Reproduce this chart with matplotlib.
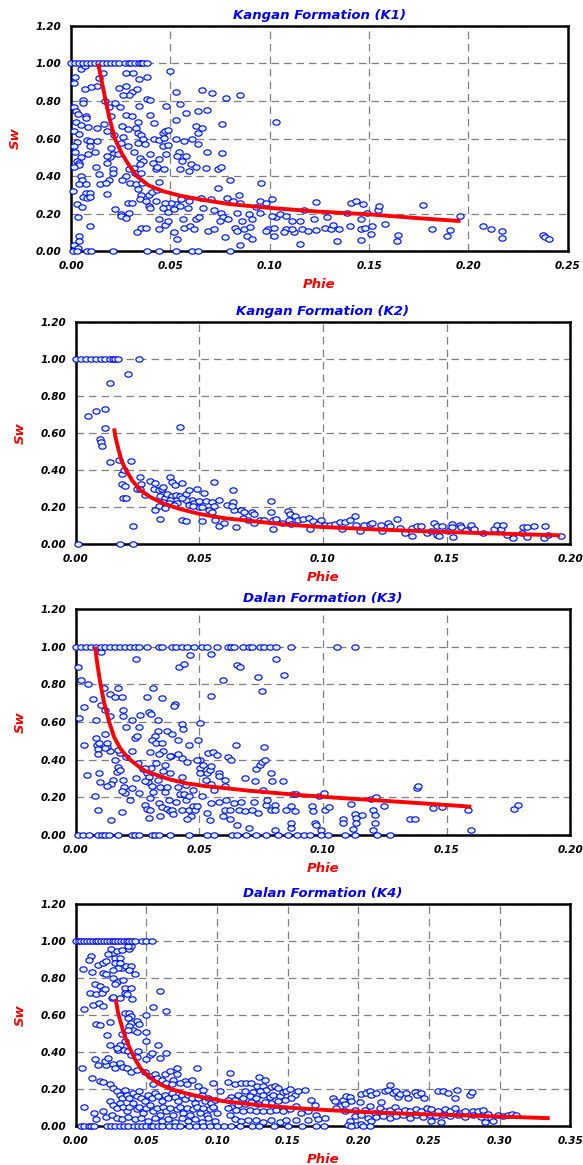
import numpy as np
import matplotlib
matplotlib.use("Agg")
import matplotlib.pyplot as plt
from matplotlib.path import Path

# ── Data (Phie, Sw) ──────────────────────────────────────────────────────────
k1_sw1 = [0.000, 0.002, 0.004, 0.006, 0.008, 0.010, 0.012, 0.014, 0.016, 0.018,
          0.020, 0.022, 0.024, 0.027, 0.029, 0.030, 0.032, 0.034, 0.035, 0.036, 0.038]
k1_sw0 = [0.001, 0.003, 0.008, 0.010, 0.021, 0.038, 0.044, 0.053, 0.061, 0.064, 0.080]
k1_pts = [
    (0.002, 0.93), (0.0015, 0.895), (0.005, 0.97), (0.007, 0.985), (0.016, 0.95),
    (0.014, 0.92), (0.013, 0.88), (0.010, 0.875), (0.007, 0.865), (0.017, 0.80),
    (0.006, 0.805), (0.006, 0.79), (0.0015, 0.77), (0.0025, 0.745), (0.0035, 0.73),
    (0.0075, 0.72), (0.0075, 0.71), (0.0025, 0.69), (0.005, 0.67), (0.0085, 0.66),
    (0.013, 0.655), (0.0015, 0.64), (0.004, 0.625), (0.008, 0.59), (0.0095, 0.585),
    (0.013, 0.585), (0.003, 0.58), (0.0015, 0.56), (0.0095, 0.56), (0.002, 0.53),
    (0.0085, 0.52), (0.012, 0.53), (0.005, 0.50), (0.003, 0.48), (0.004, 0.47),
    (0.004, 0.46), (0.0015, 0.45), (0.0125, 0.45), (0.005, 0.40), (0.0055, 0.38),
    (0.004, 0.36), (0.0075, 0.36), (0.0145, 0.355), (0.001, 0.32), (0.0075, 0.31),
    (0.0095, 0.31), (0.006, 0.29), (0.008, 0.285), (0.0095, 0.29), (0.018, 0.305),
    (0.003, 0.25), (0.0055, 0.235), (0.0035, 0.18), (0.0095, 0.135), (0.004, 0.08),
    (0.004, 0.055), (0.0015, 0.03), (0.0035, 0.015),
    (0.019, 0.77), (0.020, 0.72), (0.0165, 0.68), (0.018, 0.64), (0.0215, 0.62),
    (0.020, 0.55), (0.021, 0.52), (0.0195, 0.50), (0.018, 0.47), (0.021, 0.435),
    (0.021, 0.415), (0.0235, 0.515), (0.025, 0.575), (0.0285, 0.56), (0.022, 0.79),
    (0.0245, 0.77), (0.0275, 0.725), (0.0255, 0.665), (0.0285, 0.65), (0.026, 0.61),
    (0.024, 0.87), (0.0275, 0.88), (0.0305, 0.85), (0.033, 0.865), (0.029, 0.83),
    (0.026, 0.83), (0.0275, 0.95), (0.031, 0.95), (0.034, 0.915), (0.038, 0.93),
    (0.038, 0.81), (0.0395, 0.805), (0.034, 0.775), (0.0305, 0.72), (0.0335, 0.69),
    (0.0325, 0.655), (0.0335, 0.63), (0.035, 0.62), (0.036, 0.595), (0.0335, 0.575),
    (0.037, 0.57), (0.0315, 0.53), (0.0345, 0.495), (0.036, 0.48), (0.0345, 0.465),
    (0.0315, 0.445), (0.029, 0.435), (0.032, 0.415), (0.035, 0.415), (0.0275, 0.40),
    (0.0255, 0.38), (0.0295, 0.365), (0.0325, 0.355), (0.0355, 0.365), (0.0335, 0.33),
    (0.035, 0.30), (0.0345, 0.28), (0.0375, 0.265), (0.039, 0.30), (0.0405, 0.315),
    (0.0285, 0.255), (0.0305, 0.255), (0.029, 0.205), (0.022, 0.225), (0.025, 0.195),
    (0.025, 0.185), (0.0275, 0.175), (0.019, 0.38), (0.0175, 0.365), (0.035, 0.125),
    (0.033, 0.10), (0.039, 0.24), (0.0425, 0.265), (0.044, 0.37), (0.0395, 0.725),
    (0.0415, 0.685), (0.0395, 0.52), (0.041, 0.47), (0.0425, 0.435), (0.0415, 0.595),
    (0.044, 0.59), (0.046, 0.63), (0.047, 0.64), (0.049, 0.645), (0.0465, 0.605),
    (0.046, 0.56), (0.048, 0.52), (0.049, 0.565), (0.044, 0.49), (0.043, 0.45),
    (0.0465, 0.435), (0.050, 0.96), (0.053, 0.85), (0.055, 0.785), (0.048, 0.775),
    (0.053, 0.70), (0.058, 0.735), (0.063, 0.665), (0.066, 0.655), (0.064, 0.63),
    (0.066, 0.86), (0.071, 0.845), (0.064, 0.745), (0.0685, 0.75), (0.076, 0.675),
    (0.078, 0.815), (0.085, 0.83), (0.103, 0.69), (0.053, 0.595), (0.057, 0.585),
    (0.061, 0.595), (0.064, 0.57), (0.0545, 0.53), (0.0535, 0.505), (0.056, 0.48),
    (0.058, 0.505), (0.0605, 0.465), (0.063, 0.45), (0.0595, 0.425), (0.055, 0.435),
    (0.0685, 0.53), (0.068, 0.445), (0.076, 0.525), (0.074, 0.435), (0.0755, 0.45),
    (0.080, 0.38), (0.074, 0.335), (0.0955, 0.365), (0.0845, 0.30), (0.0785, 0.285),
    (0.0815, 0.265), (0.085, 0.255), (0.0705, 0.275), (0.0655, 0.285), (0.0595, 0.265),
    (0.0555, 0.275), (0.053, 0.25), (0.0505, 0.255), (0.047, 0.255), (0.046, 0.23),
    (0.049, 0.21), (0.052, 0.225), (0.055, 0.24), (0.059, 0.23), (0.0665, 0.23),
    (0.072, 0.22), (0.0755, 0.205), (0.0765, 0.18), (0.075, 0.16), (0.079, 0.17),
    (0.0835, 0.205), (0.0895, 0.195), (0.093, 0.235), (0.095, 0.265), (0.098, 0.255),
    (0.101, 0.275), (0.095, 0.205), (0.091, 0.17), (0.086, 0.16), (0.0825, 0.125),
    (0.0835, 0.105), (0.087, 0.115), (0.090, 0.13), (0.0885, 0.08), (0.091, 0.065),
    (0.099, 0.115), (0.098, 0.105), (0.102, 0.08), (0.102, 0.125), (0.103, 0.18),
    (0.101, 0.185), (0.105, 0.20), (0.108, 0.185), (0.111, 0.16), (0.108, 0.115),
    (0.107, 0.10), (0.112, 0.10), (0.111, 0.115), (0.115, 0.04), (0.117, 0.22),
    (0.115, 0.16), (0.116, 0.12), (0.119, 0.105), (0.122, 0.17), (0.123, 0.26),
    (0.123, 0.11), (0.128, 0.125), (0.129, 0.18), (0.131, 0.115), (0.132, 0.14),
    (0.134, 0.055), (0.135, 0.115), (0.139, 0.205), (0.1405, 0.135), (0.141, 0.255),
    (0.1435, 0.265), (0.146, 0.17), (0.146, 0.115), (0.146, 0.06), (0.147, 0.25),
    (0.149, 0.205), (0.148, 0.125), (0.151, 0.09), (0.1515, 0.135), (0.1545, 0.22),
    (0.155, 0.24), (0.158, 0.145), (0.164, 0.055), (0.1645, 0.085), (0.177, 0.245),
    (0.1815, 0.12), (0.189, 0.08), (0.1905, 0.11), (0.1955, 0.185), (0.2075, 0.135),
    (0.2115, 0.115), (0.217, 0.105), (0.217, 0.07), (0.2375, 0.085), (0.2385, 0.075),
    (0.2405, 0.065), (0.044, 0.17), (0.044, 0.115), (0.047, 0.14), (0.049, 0.16),
    (0.052, 0.10), (0.0535, 0.065), (0.0565, 0.17), (0.057, 0.125), (0.060, 0.135),
    (0.062, 0.12), (0.063, 0.17), (0.0645, 0.18), (0.069, 0.105), (0.072, 0.12),
    (0.0775, 0.075), (0.085, 0.03), (0.043, 0.325), (0.0395, 0.23), (0.0375, 0.125),
    (0.018, 0.505), (0.014, 0.41),
]
k1_fit_phie = [0.0136, 0.0155, 0.0174, 0.0195, 0.022, 0.0255, 0.029, 0.033, 0.039,
               0.046, 0.055, 0.065, 0.080, 0.100, 0.125, 0.151, 0.175, 0.196]
k1_fit_sw = [1.00, 0.90, 0.80, 0.70, 0.60, 0.52, 0.46, 0.40, 0.35,
             0.32, 0.295, 0.275, 0.25, 0.23, 0.21, 0.195, 0.175, 0.16]

k2_sw1 = [0.000, 0.002, 0.004, 0.006, 0.008, 0.010, 0.012, 0.014, 0.015, 0.016, 0.017, 0.0255]
k2_sw0 = [0.001, 0.018, 0.023]
k2_pts = [
    (0.021, 0.92), (0.014, 0.87), (0.005, 0.69), (0.0083, 0.72), (0.0117, 0.73),
    (0.012, 0.625), (0.0098, 0.57), (0.010, 0.55), (0.0105, 0.53), (0.014, 0.445),
    (0.0173, 0.455), (0.0222, 0.45), (0.0185, 0.38), (0.0195, 0.40), (0.0185, 0.325),
    (0.020, 0.315), (0.0193, 0.25), (0.0203, 0.25), (0.0233, 0.095), (0.042, 0.63),
    (0.026, 0.36), (0.0263, 0.325), (0.0248, 0.30), (0.026, 0.295), (0.028, 0.265),
    (0.030, 0.34), (0.032, 0.33), (0.0316, 0.30), (0.0335, 0.29), (0.035, 0.30),
    (0.034, 0.26), (0.036, 0.25), (0.0383, 0.36), (0.039, 0.335), (0.040, 0.32),
    (0.043, 0.33), (0.0353, 0.31), (0.037, 0.27), (0.039, 0.26), (0.0406, 0.265),
    (0.042, 0.26), (0.0445, 0.27), (0.0458, 0.29), (0.0489, 0.295), (0.047, 0.24),
    (0.0444, 0.24), (0.043, 0.25), (0.041, 0.22), (0.038, 0.24), (0.0353, 0.225),
    (0.0335, 0.205), (0.032, 0.185), (0.036, 0.195), (0.034, 0.135), (0.043, 0.13),
    (0.0444, 0.125), (0.0456, 0.21), (0.048, 0.22), (0.050, 0.23), (0.050, 0.20),
    (0.052, 0.275), (0.0526, 0.23), (0.055, 0.225), (0.056, 0.205), (0.054, 0.185),
    (0.055, 0.175), (0.051, 0.125), (0.056, 0.335), (0.058, 0.24), (0.061, 0.21),
    (0.0636, 0.29), (0.0636, 0.225), (0.064, 0.185), (0.063, 0.205), (0.0565, 0.13),
    (0.058, 0.10), (0.060, 0.115), (0.065, 0.09), (0.067, 0.185), (0.068, 0.175),
    (0.0677, 0.14), (0.0696, 0.13), (0.0714, 0.175), (0.072, 0.16), (0.0719, 0.115),
    (0.0744, 0.13), (0.0762, 0.13), (0.079, 0.23), (0.079, 0.175), (0.0797, 0.13),
    (0.0797, 0.08), (0.081, 0.135), (0.0835, 0.115), (0.0857, 0.18), (0.0865, 0.16),
    (0.0862, 0.13), (0.087, 0.11), (0.0888, 0.15), (0.090, 0.13), (0.092, 0.135),
    (0.0943, 0.14), (0.0948, 0.08), (0.096, 0.125), (0.098, 0.11), (0.099, 0.13),
    (0.1008, 0.105), (0.103, 0.105), (0.105, 0.11), (0.107, 0.12), (0.1075, 0.08),
    (0.109, 0.12), (0.111, 0.13), (0.1128, 0.15), (0.1135, 0.105), (0.115, 0.07),
    (0.1165, 0.105), (0.119, 0.11), (0.120, 0.115), (0.1233, 0.105), (0.124, 0.07),
    (0.1263, 0.115), (0.127, 0.095), (0.130, 0.135), (0.131, 0.085), (0.1333, 0.06),
    (0.1362, 0.045), (0.136, 0.085), (0.138, 0.095), (0.1398, 0.095), (0.142, 0.06),
    (0.1436, 0.07), (0.1448, 0.115), (0.146, 0.10), (0.146, 0.05), (0.148, 0.10),
    (0.147, 0.045), (0.1504, 0.07), (0.152, 0.11), (0.1526, 0.04), (0.152, 0.09),
    (0.1556, 0.105), (0.156, 0.09), (0.158, 0.075), (0.160, 0.09), (0.160, 0.105),
    (0.161, 0.08), (0.1647, 0.06), (0.169, 0.08), (0.1703, 0.105), (0.172, 0.08),
    (0.173, 0.105), (0.1744, 0.05), (0.1767, 0.035), (0.1805, 0.06), (0.181, 0.09),
    (0.1827, 0.09), (0.1827, 0.04), (0.1854, 0.10), (0.1895, 0.035), (0.190, 0.10),
    (0.191, 0.05), (0.1962, 0.045), (0.0376, 0.22), (0.0398, 0.21), (0.0474, 0.205),
    (0.0511, 0.20),
]
k2_fit_phie = [0.0155, 0.016, 0.0173, 0.0185, 0.0203, 0.023, 0.0263, 0.030, 0.0353, 0.042,
               0.050, 0.060, 0.0744, 0.085, 0.100, 0.125, 0.150, 0.175, 0.196]
k2_fit_sw = [0.625, 0.58, 0.51, 0.45, 0.40, 0.34, 0.29, 0.255, 0.22, 0.19,
             0.163, 0.14, 0.12, 0.105, 0.092, 0.077, 0.065, 0.055, 0.047]

k3_sw1 = [0.000, 0.002, 0.004, 0.006, 0.008, 0.010, 0.012, 0.014, 0.016, 0.018,
          0.020, 0.022, 0.024, 0.0256, 0.029, 0.0338, 0.035, 0.039, 0.0406, 0.043,
          0.045, 0.0477, 0.051, 0.053, 0.057, 0.0614, 0.0627, 0.064, 0.0677, 0.070,
          0.0714, 0.0744, 0.076, 0.0786, 0.081, 0.087, 0.1056, 0.113]
k3_sw0 = [0.0008, 0.003, 0.0053, 0.009, 0.0105, 0.012, 0.0135, 0.017, 0.0226, 0.024,
          0.0256, 0.031, 0.032, 0.0338, 0.038, 0.0459, 0.053, 0.056, 0.063, 0.0654,
          0.069, 0.0729, 0.077, 0.082, 0.0857, 0.0895, 0.0925, 0.0947, 0.099, 0.102,
          0.109, 0.1128, 0.122, 0.127]
k3_pts = [
    (0.160, 0.025), (0.001, 0.89), (0.0023, 0.825), (0.0048, 0.80), (0.0244, 0.935),
    (0.010, 0.97), (0.0012, 0.62), (0.0068, 0.72), (0.0033, 0.68), (0.010, 0.69),
    (0.008, 0.61), (0.012, 0.665), (0.0138, 0.75), (0.0158, 0.73), (0.017, 0.78),
    (0.0188, 0.73), (0.019, 0.665), (0.019, 0.63), (0.0113, 0.78), (0.0138, 0.63),
    (0.0203, 0.575), (0.0226, 0.61), (0.0256, 0.575), (0.0238, 0.515), (0.0248, 0.525),
    (0.026, 0.635), (0.0287, 0.73), (0.0313, 0.78), (0.0298, 0.655), (0.0305, 0.64),
    (0.0331, 0.61), (0.035, 0.725), (0.0334, 0.55), (0.032, 0.525), (0.0308, 0.505),
    (0.0323, 0.49), (0.035, 0.49), (0.0371, 0.55), (0.039, 0.535), (0.0401, 0.695),
    (0.0398, 0.685), (0.0413, 0.505), (0.0428, 0.59), (0.0433, 0.565), (0.0418, 0.89),
    (0.0439, 0.91), (0.0463, 0.955), (0.0549, 0.96), (0.0546, 0.74), (0.0504, 0.595),
    (0.0493, 0.505), (0.0456, 0.475), (0.0594, 0.825), (0.0654, 0.905), (0.0666, 0.89),
    (0.0737, 0.84), (0.0752, 0.765), (0.0809, 0.935), (0.0842, 0.85), (0.0647, 0.48),
    (0.0762, 0.465), (0.0534, 0.435), (0.0556, 0.44), (0.0571, 0.425), (0.0504, 0.40),
    (0.0489, 0.40), (0.0451, 0.39), (0.0428, 0.41), (0.0413, 0.43), (0.0387, 0.42),
    (0.038, 0.42), (0.0353, 0.445), (0.0338, 0.43), (0.0301, 0.44), (0.0323, 0.38),
    (0.0305, 0.355), (0.0271, 0.35), (0.0251, 0.38), (0.0226, 0.445), (0.0203, 0.415),
    (0.018, 0.435), (0.017, 0.45), (0.014, 0.445), (0.0128, 0.465), (0.0117, 0.535),
    (0.0128, 0.49), (0.012, 0.46), (0.0086, 0.48), (0.009, 0.455), (0.0093, 0.49),
    (0.008, 0.515), (0.0035, 0.475), (0.009, 0.43), (0.0158, 0.40), (0.017, 0.36),
    (0.0165, 0.335), (0.018, 0.345), (0.019, 0.29), (0.015, 0.29), (0.0143, 0.27),
    (0.0128, 0.26), (0.0098, 0.28), (0.0095, 0.33), (0.0045, 0.32), (0.0195, 0.255),
    (0.0198, 0.225), (0.0188, 0.235), (0.0244, 0.30), (0.0256, 0.225), (0.0226, 0.25),
    (0.0221, 0.185), (0.0188, 0.12), (0.0143, 0.08), (0.0078, 0.205), (0.009, 0.135),
    (0.0281, 0.355), (0.0287, 0.33), (0.0296, 0.31), (0.0293, 0.28), (0.0308, 0.26),
    (0.0313, 0.23), (0.0278, 0.285), (0.0281, 0.16), (0.0287, 0.14), (0.0301, 0.195),
    (0.0301, 0.135), (0.0298, 0.09), (0.0331, 0.29), (0.0341, 0.255), (0.0353, 0.34),
    (0.036, 0.37), (0.038, 0.33), (0.0338, 0.17), (0.035, 0.15), (0.0342, 0.10),
    (0.0362, 0.23), (0.0371, 0.255), (0.0376, 0.185), (0.0368, 0.14), (0.0383, 0.125),
    (0.039, 0.135), (0.0395, 0.11), (0.0406, 0.175), (0.0428, 0.31), (0.0413, 0.255),
    (0.0421, 0.22), (0.0436, 0.22), (0.0444, 0.265), (0.0428, 0.135), (0.0444, 0.185),
    (0.0459, 0.205), (0.0456, 0.135), (0.0466, 0.10), (0.0451, 0.085), (0.0474, 0.24),
    (0.0474, 0.155), (0.0481, 0.135), (0.0492, 0.155), (0.0511, 0.205), (0.0504, 0.355),
    (0.0501, 0.33), (0.0516, 0.37), (0.0531, 0.33), (0.0541, 0.345), (0.0546, 0.365),
    (0.0526, 0.29), (0.0549, 0.27), (0.0561, 0.24), (0.0579, 0.33), (0.0579, 0.315),
    (0.0602, 0.29), (0.0602, 0.26), (0.0617, 0.415), (0.0627, 0.40), (0.0531, 0.115),
    (0.0541, 0.08), (0.0546, 0.17), (0.0579, 0.175), (0.0594, 0.10), (0.0609, 0.185),
    (0.0602, 0.135), (0.0624, 0.135), (0.0624, 0.085), (0.0639, 0.17), (0.0654, 0.055),
    (0.0662, 0.135), (0.0669, 0.175), (0.0684, 0.30), (0.0684, 0.125), (0.0702, 0.035),
    (0.0714, 0.135), (0.0719, 0.175), (0.0726, 0.285), (0.0729, 0.35), (0.0737, 0.115),
    (0.0744, 0.37), (0.0752, 0.39), (0.0767, 0.40), (0.0759, 0.24), (0.0771, 0.16),
    (0.0774, 0.185), (0.0789, 0.135), (0.0789, 0.33), (0.0794, 0.285), (0.0805, 0.16),
    (0.0805, 0.135), (0.0807, 0.025), (0.0839, 0.285), (0.0850, 0.135), (0.0872, 0.155),
    (0.0872, 0.065), (0.0872, 0.035), (0.088, 0.22), (0.0892, 0.22), (0.0887, 0.125),
    (0.0955, 0.155), (0.0959, 0.125), (0.0967, 0.065), (0.0973, 0.055), (0.0993, 0.025),
    (0.0985, 0.205), (0.1003, 0.225), (0.1008, 0.135), (0.1023, 0.15), (0.1083, 0.085),
    (0.1083, 0.065), (0.1113, 0.165), (0.112, 0.03), (0.1128, 0.11), (0.1135, 0.09),
    (0.1135, 0.065), (0.1158, 0.105), (0.1195, 0.19), (0.1203, 0.135), (0.121, 0.105),
    (0.121, 0.065), (0.1203, 0.025), (0.1214, 0.20), (0.1248, 0.155), (0.1353, 0.085),
    (0.1373, 0.085), (0.1379, 0.25), (0.1383, 0.26), (0.1444, 0.145), (0.1481, 0.15),
    (0.1587, 0.135), (0.1774, 0.14), (0.1789, 0.16),
]
k3_fit_phie = [0.0078, 0.0088, 0.010, 0.0115, 0.0135, 0.0155, 0.018, 0.021, 0.0248, 0.028,
               0.0323, 0.038, 0.0444, 0.052, 0.0594, 0.070, 0.0895, 0.105, 0.1195, 0.140, 0.160]
k3_fit_sw = [1.00, 0.90, 0.80, 0.70, 0.60, 0.52, 0.46, 0.41, 0.37, 0.34,
             0.32, 0.295, 0.275, 0.26, 0.25, 0.235, 0.213, 0.198, 0.186, 0.168, 0.15]

k4_sw1 = [0.000, 0.002, 0.004, 0.006, 0.008, 0.010, 0.012, 0.014, 0.016, 0.018,
          0.020, 0.022, 0.024, 0.026, 0.028, 0.030, 0.032, 0.034, 0.036, 0.038,
          0.040, 0.042, 0.047, 0.050, 0.054]
k4_sw0 = [0.004, 0.006, 0.009, 0.011, 0.013, 0.022, 0.025, 0.028, 0.031, 0.034,
          0.037, 0.041, 0.044, 0.047, 0.050, 0.053, 0.055, 0.058, 0.061, 0.066,
          0.070, 0.074, 0.080, 0.085, 0.090, 0.095, 0.100, 0.105, 0.110, 0.116,
          0.125, 0.130, 0.140, 0.150, 0.160, 0.170, 0.176, 0.195, 0.203, 0.208]
k4_pts = [
    (0.011, 0.92), (0.0095, 0.90), (0.005, 0.85), (0.0118, 0.83), (0.0158, 0.87),
    (0.019, 0.88), (0.0217, 0.89), (0.0265, 0.935), (0.025, 0.955), (0.029, 0.945),
    (0.033, 0.95), (0.038, 0.955), (0.039, 0.975), (0.037, 0.975), (0.023, 0.93),
    (0.0276, 0.91), (0.031, 0.91), (0.0276, 0.88), (0.031, 0.88), (0.033, 0.855),
    (0.030, 0.855), (0.0265, 0.845), (0.0354, 0.865), (0.039, 0.865), (0.0378, 0.845),
    (0.042, 0.82), (0.019, 0.825), (0.0217, 0.82), (0.0265, 0.80), (0.029, 0.78),
    (0.0276, 0.77), (0.0335, 0.79), (0.0347, 0.745), (0.039, 0.745), (0.0135, 0.765),
    (0.017, 0.755), (0.019, 0.735), (0.0099, 0.72), (0.014, 0.715), (0.0185, 0.72),
    (0.0205, 0.74), (0.0595, 0.73), (0.0253, 0.69), (0.0265, 0.70), (0.031, 0.69),
    (0.0347, 0.72), (0.0366, 0.715), (0.040, 0.685), (0.0123, 0.655), (0.0165, 0.665),
    (0.019, 0.65), (0.0057, 0.63), (0.055, 0.645), (0.064, 0.62), (0.0347, 0.61),
    (0.038, 0.61), (0.039, 0.595), (0.037, 0.585), (0.0496, 0.60), (0.039, 0.555),
    (0.043, 0.565), (0.045, 0.55), (0.038, 0.54), (0.0406, 0.52), (0.043, 0.51),
    (0.037, 0.52), (0.0146, 0.55), (0.017, 0.545), (0.024, 0.56), (0.022, 0.49),
    (0.050, 0.51), (0.0496, 0.46), (0.0324, 0.495), (0.0347, 0.46), (0.0312, 0.44),
    (0.024, 0.44), (0.030, 0.41), (0.029, 0.42), (0.0583, 0.44), (0.034, 0.41),
    (0.037, 0.405), (0.044, 0.405), (0.039, 0.385), (0.043, 0.375), (0.0525, 0.385),
    (0.054, 0.395), (0.0595, 0.37), (0.064, 0.395), (0.0047, 0.315), (0.0135, 0.36),
    (0.0158, 0.33), (0.0213, 0.33), (0.0206, 0.35), (0.0229, 0.365), (0.0265, 0.335),
    (0.0276, 0.315), (0.031, 0.34), (0.0336, 0.32), (0.036, 0.315), (0.0118, 0.26),
    (0.017, 0.245), (0.019, 0.24), (0.039, 0.29), (0.043, 0.305), (0.049, 0.29),
    (0.050, 0.36), (0.0525, 0.27), (0.056, 0.28), (0.0576, 0.26), (0.0607, 0.25),
    (0.063, 0.28), (0.0666, 0.295), (0.069, 0.25), (0.0713, 0.28), (0.0713, 0.315),
    (0.077, 0.245), (0.082, 0.25), (0.0855, 0.315), (0.0059, 0.10), (0.0128, 0.07),
    (0.0146, 0.035),
    (0.024, 0.225), (0.0265, 0.205), (0.029, 0.19), (0.031, 0.165), (0.0324, 0.15),
    (0.0347, 0.195), (0.036, 0.17), (0.038, 0.15), (0.0406, 0.18), (0.043, 0.16),
    (0.045, 0.19), (0.0465, 0.15), (0.049, 0.135), (0.0513, 0.17), (0.0536, 0.15),
    (0.056, 0.18), (0.0583, 0.16), (0.0607, 0.135), (0.063, 0.17), (0.0654, 0.15),
    (0.0678, 0.18), (0.070, 0.155), (0.0725, 0.135), (0.075, 0.17), (0.077, 0.145),
    (0.0796, 0.17), (0.082, 0.15), (0.0843, 0.125), (0.0867, 0.15), (0.089, 0.17),
    (0.0914, 0.135), (0.0938, 0.15), (0.096, 0.125), (0.0985, 0.14), (0.024, 0.135),
    (0.0265, 0.115), (0.0293, 0.095), (0.031, 0.125), (0.0335, 0.105), (0.036, 0.08),
    (0.038, 0.105), (0.0406, 0.125), (0.043, 0.09), (0.045, 0.105), (0.0477, 0.07),
    (0.050, 0.095), (0.0525, 0.115), (0.0548, 0.08), (0.0572, 0.095), (0.0595, 0.06),
    (0.062, 0.105), (0.064, 0.08), (0.0666, 0.095), (0.069, 0.06), (0.0713, 0.09),
    (0.0737, 0.105), (0.076, 0.07), (0.0784, 0.095), (0.081, 0.06), (0.0831, 0.09),
    (0.0855, 0.105), (0.088, 0.07), (0.090, 0.095), (0.0926, 0.06), (0.095, 0.09),
    (0.097, 0.105), (0.0997, 0.07), (0.019, 0.08), (0.0217, 0.05), (0.0253, 0.06),
    (0.029, 0.045), (0.0324, 0.035), (0.037, 0.05), (0.042, 0.035), (0.0465, 0.045),
    (0.0513, 0.025), (0.056, 0.045), (0.0607, 0.025), (0.0654, 0.04), (0.070, 0.02),
    (0.075, 0.045), (0.0796, 0.025), (0.0843, 0.04), (0.089, 0.02), (0.0938, 0.045),
    (0.0985, 0.025), (0.0548, 0.225), (0.064, 0.235), (0.0737, 0.235), (0.0678, 0.225),
    (0.0784, 0.225), (0.0867, 0.215), (0.097, 0.235), (0.090, 0.195), (0.102, 0.19),
    (0.109, 0.285), (0.108, 0.24), (0.1124, 0.225), (0.117, 0.23), (0.1205, 0.235),
    (0.124, 0.23), (0.130, 0.265), (0.1337, 0.25), (0.128, 0.215), (0.1325, 0.215),
    (0.1384, 0.21), (0.1408, 0.215), (0.143, 0.205), (0.135, 0.195), (0.1304, 0.19),
    (0.1255, 0.185), (0.1195, 0.19), (0.115, 0.17), (0.110, 0.155), (0.108, 0.14),
    (0.1125, 0.14), (0.1183, 0.15), (0.123, 0.16), (0.1278, 0.15), (0.1325, 0.165),
    (0.1373, 0.155), (0.1396, 0.17), (0.1443, 0.16), (0.1467, 0.185), (0.149, 0.19),
    (0.1514, 0.20), (0.155, 0.17), (0.1573, 0.19), (0.162, 0.195), (0.1526, 0.15),
    (0.1479, 0.14), (0.1431, 0.135), (0.1384, 0.125), (0.1337, 0.13), (0.129, 0.12),
    (0.1242, 0.13), (0.1195, 0.12), (0.1148, 0.115), (0.110, 0.105), (0.108, 0.097),
    (0.1136, 0.088), (0.1183, 0.08), (0.123, 0.088), (0.1278, 0.08), (0.1325, 0.083),
    (0.1373, 0.08), (0.142, 0.088), (0.1467, 0.08), (0.1514, 0.094), (0.1561, 0.106),
    (0.1597, 0.07), (0.1644, 0.08), (0.1668, 0.142), (0.1692, 0.115), (0.1703, 0.06),
    (0.1089, 0.06), (0.1125, 0.04), (0.1172, 0.025), (0.1219, 0.034), (0.1278, 0.034),
    (0.1325, 0.022), (0.1384, 0.03), (0.1443, 0.022), (0.149, 0.03), (0.1561, 0.034),
    (0.1644, 0.034), (0.1715, 0.04), (0.1762, 0.043),
    (0.182, 0.15), (0.1832, 0.133), (0.1868, 0.106), (0.1892, 0.142), (0.1916, 0.16),
    (0.194, 0.155), (0.1946, 0.133), (0.1908, 0.12), (0.1844, 0.097), (0.1903, 0.08),
    (0.1974, 0.088), (0.201, 0.13), (0.2017, 0.173), (0.2057, 0.178), (0.208, 0.187),
    (0.2092, 0.17), (0.2128, 0.178), (0.2163, 0.13), (0.2187, 0.187), (0.221, 0.196),
    (0.2227, 0.223), (0.2246, 0.178), (0.227, 0.187), (0.2282, 0.155), (0.2294, 0.173),
    (0.2341, 0.178), (0.2353, 0.151), (0.240, 0.184), (0.2419, 0.169), (0.2447, 0.178),
    (0.2466, 0.151), (0.2045, 0.088), (0.208, 0.106), (0.2116, 0.07), (0.2151, 0.097),
    (0.2187, 0.08), (0.2222, 0.088), (0.2258, 0.10), (0.2282, 0.08), (0.2329, 0.088),
    (0.2364, 0.08), (0.2411, 0.094), (0.2447, 0.08), (0.2483, 0.097), (0.1975, 0.052),
    (0.2022, 0.061), (0.2069, 0.043), (0.2092, 0.025), (0.2128, 0.047), (0.2175, 0.052),
    (0.2222, 0.043), (0.2269, 0.052), (0.2317, 0.058), (0.2364, 0.043), (0.2411, 0.058),
    (0.2459, 0.047), (0.1939, 0.025), (0.1986, 0.007), (0.2022, 0.011), (0.1927, 0.007),
    (0.2565, 0.19), (0.260, 0.19), (0.2636, 0.178), (0.2702, 0.196), (0.2683, 0.151),
    (0.2789, 0.166), (0.2806, 0.184), (0.2518, 0.094), (0.2565, 0.08), (0.2612, 0.094),
    (0.2648, 0.08), (0.2683, 0.097), (0.2719, 0.07), (0.2754, 0.08), (0.2813, 0.083),
    (0.2849, 0.08), (0.2884, 0.088), (0.2506, 0.061), (0.2553, 0.052), (0.260, 0.061),
    (0.2648, 0.052), (0.2707, 0.058), (0.2754, 0.047), (0.2813, 0.058), (0.2872, 0.047),
    (0.2919, 0.065), (0.2943, 0.043), (0.299, 0.061), (0.3026, 0.052), (0.3061, 0.061),
    (0.3085, 0.065), (0.312, 0.061), (0.2955, 0.029), (0.2896, 0.022), (0.2589, 0.022),
    (0.2518, 0.029),
]
k4_fit_phie = [0.0282, 0.030, 0.0329, 0.035, 0.0382, 0.042, 0.046, 0.052, 0.0592, 0.068,
               0.0776, 0.090, 0.104, 0.130, 0.1566, 0.180, 0.209, 0.235, 0.262, 0.300, 0.3355]
k4_fit_sw = [0.686, 0.61, 0.53, 0.48, 0.42, 0.36, 0.31, 0.265, 0.227, 0.198,
             0.177, 0.155, 0.135, 0.112, 0.096, 0.085, 0.074, 0.066, 0.06, 0.051, 0.042]

titles = ["Kangan Formation (K1)", "Kangan Formation (K2)",
          "Dalan Formation (K3)", "Dalan Formation (K4)"]
x_max = [0.25, 0.20, 0.20, 0.35]

panels = [
    (k1_pts, k1_sw1, k1_sw0, k1_fit_phie, k1_fit_sw),
    (k2_pts, k2_sw1, k2_sw0, k2_fit_phie, k2_fit_sw),
    (k3_pts, k3_sw1, k3_sw0, k3_fit_phie, k3_fit_sw),
    (k4_pts, k4_sw1, k4_sw0, k4_fit_phie, k4_fit_sw),
]

# axes boxes in figure fractions [left, bottom, width, height]
boxes = [
    [0.122, 0.7845, 0.852, 0.1932],
    [0.130, 0.5330, 0.848, 0.1906],
    [0.130, 0.2833, 0.848, 0.1940],
    [0.130, 0.0335, 0.848, 0.1905],
]

# slightly flattened circle, like the stretched Excel markers
t = np.linspace(0, 2 * np.pi, 40)
ellipse = Path(np.column_stack([1.35 * np.cos(t), np.sin(t)]), closed=True)

FONT = "DejaVu Sans"
fig = plt.figure(figsize=(5.83, 11.65), dpi=100, facecolor="white")

for (pts, sw1, sw0, fx, fy), title, xm, box in zip(panels, titles, x_max, boxes):
    ax = fig.add_axes(box)
    phie = [p for p, _ in pts] + sw1 + sw0
    sw = [s for _, s in pts] + [1.0] * len(sw1) + [0.0] * len(sw0)
    ax.plot(phie, sw, linestyle="none", marker=ellipse, markersize=5.2,
            markerfacecolor="#d8f8ff", markeredgecolor="#0000ff",
            markeredgewidth=0.8, clip_on=False, zorder=3)
    ax.plot(fx, fy, color="#ff0000", linewidth=2.8, solid_capstyle="butt",
            zorder=4)

    ax.set_xlim(0, xm)
    ax.set_ylim(0, 1.2)
    ax.set_xticks(np.arange(0, xm + 1e-9, 0.05))
    ax.set_yticks(np.arange(0, 1.2 + 1e-9, 0.2))
    ax.xaxis.set_major_formatter(matplotlib.ticker.FormatStrFormatter("%.2f"))
    ax.yaxis.set_major_formatter(matplotlib.ticker.FormatStrFormatter("%.2f"))
    ax.grid(True, color="#808080", linestyle=(0, (6, 4)), linewidth=0.9)
    ax.set_axisbelow(True)
    ax.tick_params(length=0, pad=7)
    for lab in ax.get_xticklabels() + ax.get_yticklabels():
        lab.set_fontfamily(FONT)
        lab.set_fontsize(7.5)
        lab.set_fontweight("bold")
        lab.set_fontstyle("italic")
    for sp in ax.spines.values():
        sp.set_linewidth(1.8)
        sp.set_color("black")

    ax.set_title(title, fontsize=9.5, fontweight="bold", fontstyle="italic",
                 color="#0000ff", family=FONT, pad=5)
    ax.set_xlabel("Phie", fontsize=9.5, fontweight="bold", fontstyle="italic",
                  color="#ff0000", family=FONT, labelpad=5)
    ax.set_ylabel("Sw", fontsize=9.5, fontweight="bold", fontstyle="italic",
                  color="#ff0000", family=FONT, labelpad=10)

fig.savefig("out.png", dpi=100, facecolor="white")
